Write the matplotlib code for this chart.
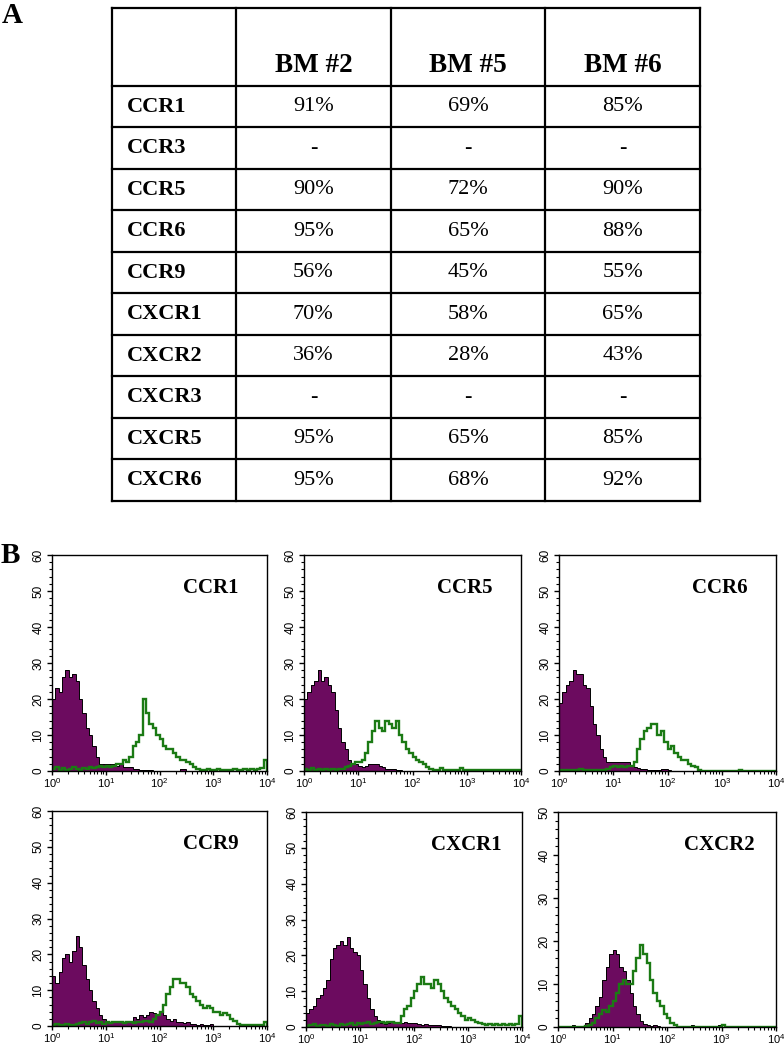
import matplotlib
matplotlib.use("Agg")
import matplotlib.pyplot as plt
import numpy as np
from matplotlib.ticker import FixedLocator, FuncFormatter, LogLocator, NullFormatter

# ---- panel A: table ----
table_cols = ["BM #2", "BM #5", "BM #6"]
table_rows = ["CCR1", "CCR3", "CCR5", "CCR6", "CCR9",
              "CXCR1", "CXCR2", "CXCR3", "CXCR5", "CXCR6"]
bm2 = ["91%", "-", "90%", "95%", "56%", "70%", "36%", "-", "95%", "95%"]
bm5 = ["69%", "-", "72%", "65%", "45%", "58%", "28%", "-", "65%", "68%"]
bm6 = ["85%", "-", "90%", "88%", "55%", "65%", "43%", "-", "85%", "92%"]

# ---- panel B: histograms, 16 bins per decade from 10^0 to 10^4 ----
panel_names = ["CCR1", "CCR5", "CCR6", "CCR9", "CXCR1", "CXCR2"]
panel_ymax = [60, 60, 60, 60, 60, 50]
first_channel = [37, 37, 37, 35, 58, 0]

iso_ccr1 = [20, 23, 22, 26, 28, 26, 27, 25, 20, 16, 12, 10, 7, 4, 2, 2,
            2, 2, 2, 1.5, 2, 1, 1, 1, 0.5, 0.5, 0.3, 0.3, 0.2, 0.2, 0, 0,
            0, 0, 0, 0, 0, 0, 0.5, 0.5, 0, 0, 0, 0, 0, 0, 0, 0,
            0, 0, 0, 0, 0, 0, 0, 0, 0, 0, 0, 0, 0, 0, 0, 0]
stain_ccr1 = [0.5, 1, 0.3, 0.8, 0.2, 0.5, 1, 0.5, 0.3, 0.8, 0.5, 1, 0.8, 1, 1.5, 1,
              1.5, 1, 1.5, 2, 2, 3, 2.5, 4, 7, 8, 10, 20, 16, 13, 12, 10,
              9, 7, 6, 6, 5, 4, 3, 3, 2.5, 2, 1, 0.5, 0.3, 0.2, 0.5, 0.3,
              0.2, 0.5, 0.3, 0.2, 0.4, 0.2, 0.5, 0.3, 0.2, 0.5, 0.3, 0.6, 0.3, 0.5, 0.8, 3]

iso_ccr5 = [20, 22, 24, 25, 28, 25, 26, 24, 22, 17, 12, 8, 6, 3, 2, 2,
            1.5, 1, 1.5, 2, 2, 2, 1.5, 1, 0.5, 0.5, 0.5, 0.3, 0.3, 0, 0, 0,
            0, 0, 0, 0, 0, 0, 0, 0, 0, 0, 0, 0, 0, 0, 0, 0,
            0, 0, 0, 0, 0, 0, 0, 0, 0, 0, 0, 0, 0, 0, 0, 0]
stain_ccr5 = [0.5, 0.2, 0.8, 0.3, 0.5, 0.2, 0.6, 0.3, 0.5, 0.3, 0.6, 0.5, 1, 1.5, 2, 2.5,
              2.5, 3, 5, 8, 11, 14, 12, 11, 14, 13, 12, 14, 10, 8, 6, 5,
              4, 3, 2.5, 2, 1, 0.5, 0.3, 0.2, 0.8, 0.2, 0.3, 0.2, 0.2, 0.3, 0.8, 0.2,
              0.2, 0.3, 0.2, 0.2, 0.3, 0.2, 0.2, 0.2, 0.3, 0.2, 0.2, 0.3, 0.2, 0.2, 0.2, 0.3]

iso_ccr6 = [19, 22, 24, 25, 28, 27, 27, 24, 23, 18, 13, 10, 6, 4, 2.5, 2.5,
            2.5, 2.5, 2.5, 2.5, 2.5, 1.5, 1, 0.8, 0.5, 0.5, 0.3, 0.3, 0.2, 0.3, 0.5, 0.5,
            0.2, 0, 0, 0, 0, 0, 0, 0, 0, 0, 0, 0, 0, 0, 0, 0,
            0, 0, 0, 0, 0, 0, 0, 0, 0, 0, 0, 0, 0, 0, 0, 0]
stain_ccr6 = [0.3, 0.2, 0.4, 0.2, 0.3, 0.2, 0.5, 0.3, 0.2, 0.4, 0.3, 0.2, 0.4, 0.3, 0.5, 1,
              1.5, 1, 1.5, 1, 1.5, 1.5, 2.5, 6, 9, 11, 12, 13, 13, 10, 11, 8,
              6, 7, 5, 4, 3, 3, 2, 1.5, 1, 0.3, 0.1, 0.1, 0.1, 0.1, 0.1, 0.1,
              0.1, 0.1, 0.1, 0.1, 0.1, 0.2, 0.1, 0.1, 0.1, 0.1, 0.1, 0.1, 0.1, 0.1, 0.1, 0.1]

iso_ccr9 = [14, 12, 15, 19, 20, 18, 21, 25, 22, 17, 13, 10, 7, 5, 3, 2,
            1.5, 1, 1.5, 1, 1.5, 1, 1.5, 1, 2.5, 2, 3, 2.5, 3, 4, 3.5, 3,
            4, 3, 2, 1.5, 2, 1, 1, 0.8, 1, 0.5, 0.5, 0.3, 0.5, 0.2, 0.2, 0.5,
            0, 0, 0, 0, 0, 0, 0, 0, 0, 0, 0, 0, 0, 0, 0, 0]
stain_ccr9 = [0.2, 0.5, 0.3, 0.2, 0.5, 0.3, 0.4, 0.5, 0.8, 1.2, 0.6, 1, 1.5, 0.8, 1, 0.6,
              1.2, 0.8, 1, 1, 1.2, 0.8, 1, 1.2, 0.8, 1, 1, 1.5, 1.5, 1, 2, 3,
              4, 6, 9, 11, 13, 13, 12, 12, 11, 9, 8, 7, 6, 5, 5.5, 5,
              4, 4, 3, 3.5, 3, 2, 1.5, 0.5, 0.2, 0.2, 0.3, 0.2, 0.2, 0.2, 0.3, 1]

iso_cxcr1 = [4, 5, 6, 8, 9, 11, 13, 19, 22, 23, 24, 23, 25, 22, 21, 20,
             16, 12, 8, 5, 3, 2, 1, 0.8, 1, 1.5, 1, 1.2, 1, 1.5, 1, 1,
             1.2, 0.8, 0.5, 0.8, 0.5, 0.5, 0.5, 0.5, 0.3, 0.3, 0.3, 0, 0, 0, 0, 0,
             0, 0, 0, 0, 0, 0, 0, 0, 0, 0, 0, 0, 0, 0, 0, 0]
stain_cxcr1 = [0.3, 0.5, 0.8, 0.3, 0.5, 0.6, 0.3, 0.8, 0.5, 0.4, 0.7, 0.5, 0.8, 1, 0.6, 1.2,
               0.8, 1, 1.5, 0.8, 1, 1.3, 1.5, 1.2, 1.3, 1.5, 1.2, 1, 3, 5, 6, 8,
               10, 12, 14, 12, 12, 11, 13, 12, 10, 8, 7, 6, 5, 4, 3, 2,
               2.5, 2, 1.5, 1, 0.7, 0.5, 0.8, 0.6, 0.7, 0.5, 0.8, 0.6, 0.7, 0.5, 0.8, 3]

iso_cxcr2 = [0, 0, 0, 0.3, 0.5, 0, 0, 0, 1, 2, 3, 5, 7, 11, 14, 17,
             18, 17, 14, 13, 11, 8, 5, 3, 1.5, 0.8, 0.5, 0.3, 0.5, 0.2, 0, 0,
             0, 0, 0, 0, 0, 0, 0, 0.5, 0, 0, 0, 0, 0, 0, 0, 0.5,
             0, 0, 0, 0, 0, 0, 0, 0, 0, 0, 0, 0, 0, 0, 0, 0]
stain_cxcr2 = [0, 0, 0, 0, 0, 0, 0, 0, 0.3, 0.5, 1, 2, 3, 4, 3.5, 5,
               6, 8, 10, 11, 10, 10, 13, 16, 19, 17, 15, 11, 8, 6, 5, 3,
               2, 1, 0.5, 0, 0, 0, 0, 0, 0, 0, 0, 0, 0, 0, 0, 0,
               0.5, 0, 0, 0, 0, 0, 0, 0, 0, 0, 0, 0, 0, 0, 0, 0]

isotype = [iso_ccr1, iso_ccr5, iso_ccr6, iso_ccr9, iso_cxcr1, iso_cxcr2]
stained = [stain_ccr1, stain_ccr5, stain_ccr6, stain_ccr9, stain_cxcr1, stain_cxcr2]

PURPLE = "#6c0b5f"
GREEN = "#1b7a14"
W, H = 784, 1049

fig = plt.figure(figsize=(W / 100, H / 100), dpi=100)
plt.rcParams["font.family"] = ["Liberation Sans", "DejaVu Sans"]
serif = ["Liberation Serif", "DejaVu Serif"]


def px_axes(left, top, right, bottom):
    """ axes from pixel box of the reference picture """
    return fig.add_axes([left / W, 1 - bottom / H, (right - left) / W, (bottom - top) / H])


# ---------- panel A ----------
fig.text(2 / W, 1 - 2 / H, "A", family=serif, weight="bold", fontsize=21, va="top")

tab = px_axes(112, 8, 700, 501)
col_w = [124, 154.7, 154.7, 154.7]
head_h, row_h = 78, 41.5
xs = np.concatenate([[0], np.cumsum(col_w)])
ys = np.concatenate([[0], head_h + row_h * np.arange(len(table_rows) + 1)])
tab.set_xlim(0, xs[-1])
tab.set_ylim(ys[-1], 0)
tab.axis("off")
for x in xs:
    tab.plot([x, x], [0, ys[-1]], color="black", lw=1.6, solid_capstyle="projecting", clip_on=False)
for y in ys:
    tab.plot([0, xs[-1]], [y, y], color="black", lw=1.6, solid_capstyle="projecting", clip_on=False)

for j, name in enumerate(table_cols):
    tab.text((xs[j + 1] + xs[j + 2]) / 2, head_h - 20, name, family=serif, weight="bold",
             fontsize=19.5, ha="center", va="center")
for i, name in enumerate(table_rows):
    yc = head_h + row_h * (i + 0.5)
    tab.text(15, yc, name, family=serif, weight="bold", fontsize=16, ha="left", va="center")
    for j, col in enumerate([bm2, bm5, bm6]):
        tab.text((xs[j + 1] + xs[j + 2]) / 2, yc, col[i], family=serif, fontsize=16,
                 ha="center", va="center")

# ---------- panel B ----------
fig.text(1 / W, 1 - 542 / H, "B", family=serif, weight="bold", fontsize=21, va="top")

boxes = [(52, 555, 267, 771), (304, 555, 521, 771), (559, 555, 776, 771),
         (52, 811, 267, 1026), (306, 812, 522, 1027), (558, 812, 776, 1027)]
edges = np.logspace(0, 4, 65)
decade_fmt = FuncFormatter(lambda v, p: r"$\mathregular{10^{%d}}$" % round(np.log10(v)))

for k, name in enumerate(panel_names):
    ax = px_axes(*boxes[k])
    ax.stairs(isotype[k], edges, fill=True, color=PURPLE, lw=0)
    ax.stairs(isotype[k], edges, color="black", lw=0.7)
    if first_channel[k]:
        ax.vlines(1.02, 0, first_channel[k], color="black", lw=1.3)
    ax.stairs(stained[k], edges, color=GREEN, lw=1.7)

    ax.set_xscale("log")
    ax.set_xlim(1, 1e4)
    ax.set_ylim(0, panel_ymax[k])
    ax.xaxis.set_major_locator(FixedLocator([1, 10, 100, 1000, 10000]))
    ax.xaxis.set_major_formatter(decade_fmt)
    ax.xaxis.set_minor_locator(LogLocator(base=10, subs=np.arange(2, 10), numticks=20))
    ax.xaxis.set_minor_formatter(NullFormatter())
    ax.set_yticks(np.arange(0, panel_ymax[k] + 1, 10))
    ax.set_yticks(np.arange(0, panel_ymax[k] + 1, 2), minor=True)
    ax.tick_params(axis="y", which="major", length=3.5, width=1.0, labelsize=8.5, pad=2)
    ax.tick_params(axis="x", which="major", length=3, width=1.0, labelsize=8, pad=0.5)
    ax.tick_params(axis="both", which="minor", length=2, width=0.8)
    for lab in ax.get_yticklabels():
        lab.set_rotation(90)
        lab.set_va("center")
    for sp in ax.spines.values():
        sp.set_linewidth(1.0)
    ax.text(0.74, 0.845, name, transform=ax.transAxes, family=serif, weight="bold",
            fontsize=15, ha="center", va="center")

fig.savefig("out.png", dpi=100)
